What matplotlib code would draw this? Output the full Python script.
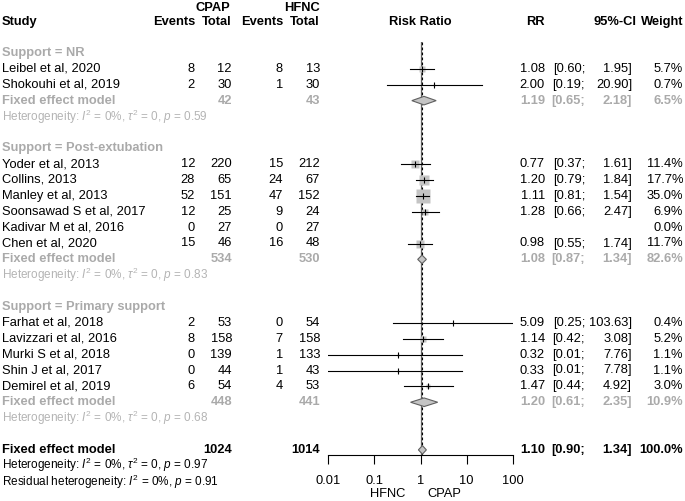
import matplotlib
matplotlib.use('Agg')
import matplotlib.pyplot as plt
from matplotlib.transforms import blended_transform_factory
import numpy as np

plt.rcParams['font.family'] = 'Liberation Sans'
plt.rcParams['mathtext.fontset'] = 'custom'
plt.rcParams['mathtext.rm'] = 'Liberation Sans'
plt.rcParams['mathtext.it'] = 'Liberation Sans:italic'

# Data
groups = ['NR', 'Post-extubation', 'Primary support']
studies = [
    ['Leibel et al, 2020', 'Shokouhi et al, 2019'],
    ['Yoder et al, 2013', 'Collins, 2013', 'Manley et al, 2013',
     'Soonsawad S et al, 2017', 'Kadivar M et al, 2016', 'Chen et al, 2020'],
    ['Farhat et al, 2018', 'Lavizzari et al, 2016', 'Murki S et al, 2018',
     'Shin J et al, 2017', 'Demirel et al, 2019'],
]
cpap_events = [[8, 2], [12, 28, 52, 12, 0, 15], [2, 8, 0, 0, 6]]
cpap_total = [[12, 30], [220, 65, 151, 25, 27, 46], [53, 158, 139, 44, 54]]
hfnc_events = [[8, 1], [15, 24, 47, 9, 0, 16], [0, 7, 1, 1, 4]]
hfnc_total = [[13, 30], [212, 67, 152, 24, 27, 48], [54, 158, 133, 43, 53]]
rr = [[1.08, 2.00], [0.77, 1.20, 1.11, 1.28, None, 0.98], [5.09, 1.14, 0.32, 0.33, 1.47]]
lo = [[0.60, 0.19], [0.37, 0.79, 0.81, 0.66, None, 0.55], [0.25, 0.42, 0.01, 0.01, 0.44]]
hi = [[1.95, 20.90], [1.61, 1.84, 1.54, 2.47, None, 1.74], [103.63, 3.08, 7.76, 7.78, 4.92]]
weight = [[5.7, 0.7], [11.4, 17.7, 35.0, 6.9, 0.0, 11.7], [0.4, 5.2, 1.1, 1.1, 3.0]]

sub_rr = [1.19, 1.08, 1.20]
sub_lo = [0.65, 0.87, 0.61]
sub_hi = [2.18, 1.34, 2.35]
sub_w = [6.5, 82.6, 10.9]
sub_cpap_n = [42, 534, 448]
sub_hfnc_n = [43, 530, 441]
sub_p = ['0.59', '0.83', '0.68']

all_rr, all_lo, all_hi = 1.10, 0.90, 1.34
all_cpap_n, all_hfnc_n = 1024, 1014
all_p = '0.97'
resid_p = '0.91'

ticks = [0.01, 0.1, 1, 10, 100]
tick_labels = ['0.01', '0.1', '1', '10', '100']

# Layout
W, H = 685, 501
fig = plt.figure(figsize=(W / 100, H / 100), dpi=100)
row0, dy = 53, 15.875
ax_l, ax_r, ax_b, ax_t = 328, 513, 455, 42
ax = fig.add_axes([ax_l / W, 1 - ax_b / H, (ax_r - ax_l) / W, (ax_b - ax_t) / H])
ax.set_xscale('log')
ax.set_xlim(0.01, 100)
ax.set_ylim((ax_b - row0) / dy, (ax_t - row0) / dy)
for s in ['top', 'left', 'right']:
    ax.spines[s].set_visible(False)
ax.spines['bottom'].set_linewidth(0.8)
ax.set_yticks([])
ax.set_xticks(ticks)
ax.set_xticklabels(tick_labels)
ax.minorticks_off()
ax.tick_params(axis='x', length=6.5, width=0.8, pad=8, labelsize=9.3)
ax.patch.set_alpha(0)

tr = blended_transform_factory(fig.transFigure, ax.transData)
fs = 9.3
sub_col = '#aaaaaa'
het_col = '#b4b4b4'


def txt(xpx, row, s, ha='right', color='black', weight='normal', size=fs):
    ax.text(xpx / W, row, s, transform=tr, ha=ha, va='center', color=color,
            fontweight=weight, fontsize=size, clip_on=False)


# Headers
hdr1 = (8 - row0) / dy
hdr2 = (22 - row0) / dy
txt(213, hdr1, 'CPAP', ha='center', weight='bold')
txt(302, hdr1, 'HFNC', ha='center', weight='bold')
txt(2, hdr2, 'Study', ha='left', weight='bold')
txt(195, hdr2, 'Events', weight='bold')
txt(232, hdr2, 'Total', weight='bold')
txt(283, hdr2, 'Events', weight='bold')
txt(320, hdr2, 'Total', weight='bold')
txt(420, hdr2, 'Risk Ratio', ha='center', weight='bold')
txt(545, hdr2, 'RR', weight='bold')
txt(637, hdr2, '95%-CI', weight='bold')
txt(683, hdr2, 'Weight', weight='bold')

sq_max = 9.8  # marker side (pt) for 35% weight


def ci_text(row, r, l, h, w, color='black', weight='normal'):
    txt(545, row, f'{r:.2f}', color=color, weight=weight)
    txt(585, row, f'[{l:.2f};', color=color, weight=weight)
    txt(632, row, f'{h:.2f}]', color=color, weight=weight)
    txt(683, row, f'{w:.1f}%', color=color, weight=weight)


def diamond(row, r, l, h, half=0.27):
    ax.fill([l, r, h, r, l], [row, row - half, row, row + half, row],
            facecolor='#c4c4c4', edgecolor='#606060', lw=0.8, zorder=4)


row = 0
for g in range(len(groups)):
    txt(2, row, f'Support = {groups[g]}', ha='left', color=sub_col, weight='bold')
    row += 1
    for i, name in enumerate(studies[g]):
        txt(2, row, name, ha='left')
        txt(195, row, str(cpap_events[g][i]))
        txt(232, row, str(cpap_total[g][i]))
        txt(283, row, str(hfnc_events[g][i]))
        txt(320, row, str(hfnc_total[g][i]))
        if rr[g][i] is None:
            txt(683, row, f'{weight[g][i]:.1f}%')
        else:
            ci_text(row, rr[g][i], lo[g][i], hi[g][i], weight[g][i])
            ms = sq_max * np.sqrt(weight[g][i] / 35.0)
            ax.plot([rr[g][i]], [row], 's', ms=ms, color='#c4c4c4', mec='none', zorder=3)
            ax.plot([lo[g][i], hi[g][i]], [row, row], color='black', lw=0.8, zorder=5)
            ax.plot([rr[g][i]], [row], '|', ms=4, mew=0.8, color='black', zorder=5)
        row += 1
    txt(2, row, 'Fixed effect model', ha='left', color=sub_col, weight='bold')
    txt(232, row, str(sub_cpap_n[g]), color=sub_col, weight='bold')
    txt(320, row, str(sub_hfnc_n[g]), color=sub_col, weight='bold')
    ci_text(row, sub_rr[g], sub_lo[g], sub_hi[g], sub_w[g], color=sub_col, weight='bold')
    diamond(row, sub_rr[g], sub_lo[g], sub_hi[g])
    row += 1
    txt(2, row, r'Heterogeneity: $I^2$ = 0%, $\tau^2$ = 0, $p$ = ' + sub_p[g],
        ha='left', color=het_col, size=8.5)
    row += 2

# Overall
txt(2, row, 'Fixed effect model', ha='left', weight='bold')
txt(232, row, str(all_cpap_n), weight='bold')
txt(320, row, str(all_hfnc_n), weight='bold')
ci_text(row, all_rr, all_lo, all_hi, 100.0, weight='bold')
diamond(row, all_rr, all_lo, all_hi)
txt(2, row + 0.95, r'Heterogeneity: $I^2$ = 0%, $\tau^2$ = 0, $p$ = ' + all_p, ha='left', size=8.5)
txt(2, row + 2.0, r'Residual heterogeneity: $I^2$ = 0%, $p$ = ' + resid_p, ha='left', size=8.5)

# Reference lines
ytop = (ax_t - row0) / dy
ybot = (ax_b - row0) / dy
ax.plot([1, 1], [ytop, ybot], color='#606060', lw=0.9, zorder=2)
ax.plot([all_rr, all_rr], [ytop, ybot], color='black', lw=0.8, ls=(0, (2.5, 2)), zorder=2)

btr = blended_transform_factory(ax.transData, fig.transFigure)
ax.text(0.48, 1 - 494 / H, 'HFNC', transform=btr, ha='right', va='center', fontsize=fs)
ax.text(1.38, 1 - 494 / H, 'CPAP', transform=btr, ha='left', va='center', fontsize=fs)

fig.savefig('out.png', dpi=100)
